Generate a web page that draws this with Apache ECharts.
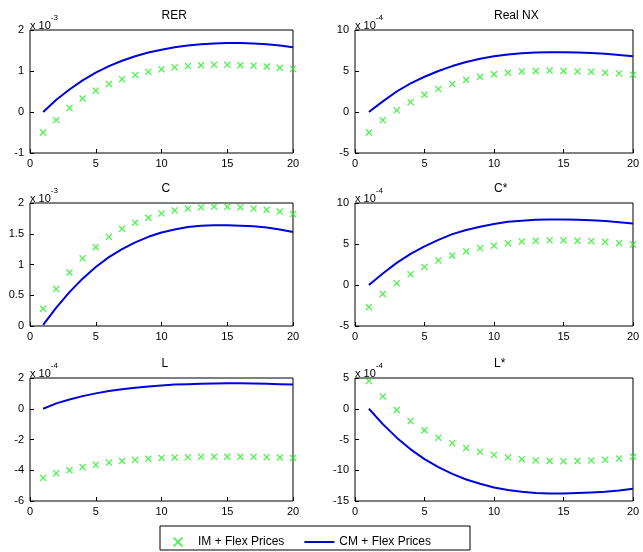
<!DOCTYPE html>
<html><head><meta charset="utf-8">
<script src="https://cdn.jsdelivr.net/npm/echarts@6/dist/echarts.min.js"></script>
<style>body{margin:0;background:#fff}#c{width:643px;height:552px}</style></head>
<body><div id="c"></div>
<script>
const periods=[1,2,3,4,5,6,7,8,9,10,11,12,13,14,15,16,17,18,19,20];
const titles=["RER","Real NX","C","C*","L","L*"];
const exps=["-3","-4","-3","-4","-4","-4"];
const yMin=[-1,-5,0,-5,-6,-15], yMax=[2,10,2,10,2,5], yInt=[1,5,0.5,5,2,5];
const imRER=[-0.5,-0.2,0.1,0.33,0.52,0.68,0.8,0.9,0.98,1.04,1.09,1.12,1.14,1.15,1.15,1.14,1.13,1.11,1.08,1.05];
const cmRER=[0,0.3,0.55,0.77,0.96,1.12,1.25,1.36,1.45,1.52,1.58,1.62,1.65,1.67,1.68,1.68,1.67,1.65,1.62,1.58];
const imNX=[-2.5,-1,0.2,1.2,2.1,2.8,3.4,3.9,4.3,4.6,4.8,4.95,5.0,5.05,5.0,4.95,4.9,4.8,4.7,4.55];
const cmNX=[0,1.3,2.5,3.5,4.3,5.0,5.6,6.1,6.5,6.8,7.0,7.15,7.25,7.3,7.3,7.25,7.2,7.1,6.95,6.8];
const imC=[0.28,0.6,0.87,1.1,1.28,1.45,1.58,1.68,1.76,1.83,1.88,1.91,1.93,1.94,1.94,1.93,1.91,1.89,1.86,1.82];
const cmC=[0.02,0.3,0.55,0.77,0.96,1.12,1.25,1.36,1.45,1.52,1.57,1.61,1.63,1.64,1.64,1.63,1.62,1.6,1.57,1.53];
const imCs=[-2.7,-1.1,0.2,1.3,2.2,3.0,3.6,4.1,4.5,4.8,5.1,5.3,5.4,5.45,5.45,5.4,5.35,5.25,5.1,4.95];
const cmCs=[0,1.4,2.7,3.8,4.7,5.5,6.2,6.7,7.1,7.45,7.7,7.85,7.95,8.0,8.0,7.95,7.9,7.8,7.65,7.5];
const imL=[-4.5,-4.2,-4.0,-3.8,-3.65,-3.5,-3.4,-3.32,-3.25,-3.2,-3.17,-3.15,-3.13,-3.12,-3.12,-3.12,-3.13,-3.15,-3.17,-3.2];
const cmL=[0,0.35,0.6,0.82,1.0,1.15,1.27,1.37,1.45,1.52,1.57,1.6,1.63,1.65,1.66,1.66,1.65,1.63,1.6,1.57];
const imLs=[4.5,2,-0.2,-2,-3.5,-4.7,-5.6,-6.4,-7,-7.5,-7.9,-8.2,-8.4,-8.5,-8.55,-8.5,-8.4,-8.3,-8.1,-7.8];
const cmLs=[0,-2.5,-4.7,-6.6,-8.2,-9.5,-10.6,-11.5,-12.2,-12.8,-13.2,-13.5,-13.7,-13.8,-13.8,-13.7,-13.6,-13.5,-13.3,-13.0];
const IM=[imRER,imNX,imC,imCs,imL,imLs], CM=[cmRER,cmNX,cmC,cmCs,cmL,cmLs];
const green='#22ee22', blue='#0000dd';
const X='path://M0,1.3L1.3,0L5,3.7L8.7,0L10,1.3L6.3,5L10,8.7L8.7,10L5,6.3L1.3,10L0,8.7L3.7,5Z';
const LINE='path://M0,4L30,4L30,6L0,6Z';
const lefts=[30,355], widths=[263,278], tops=[30,203,378], h=123;
const grid=[],xAxis=[],yAxis=[],series=[],graphic=[];
const font='Arial, Liberation Sans';
for(let i=0;i<6;i++){
  const c=i%2,r=Math.floor(i/2);
  grid.push({left:lefts[c],top:tops[r],width:widths[c],height:h,show:true,borderColor:'#000',borderWidth:1,backgroundColor:'#fff'});
  xAxis.push({gridIndex:i,type:'value',min:0,max:20,interval:5,axisLine:{show:false,onZero:false},axisTick:{inside:true,length:4,lineStyle:{color:'#000'}},splitLine:{show:false},axisLabel:{color:'#000',fontSize:11,fontFamily:font,margin:5}});
  yAxis.push({gridIndex:i,type:'value',min:yMin[i],max:yMax[i],interval:yInt[i],axisLine:{show:false,onZero:false},axisTick:{inside:true,length:4,lineStyle:{color:'#000'}},splitLine:{show:false},axisLabel:{color:'#000',fontSize:11,fontFamily:font,margin:6}});
  series.push({type:'scatter',name:'IM + Flex Prices',xAxisIndex:i,yAxisIndex:i,data:periods.map((p,k)=>[p,IM[i][k]]),symbol:X,symbolSize:7,itemStyle:{color:green}});
  series.push({type:'line',name:'CM + Flex Prices',xAxisIndex:i,yAxisIndex:i,data:periods.map((p,k)=>[p,CM[i][k]]),showSymbol:false,lineStyle:{color:blue,width:2},itemStyle:{color:blue}});
  graphic.push({type:'text',left:lefts[c]+widths[c]/2,top:tops[r]-20,style:{text:titles[i],font:'12px Arial, Liberation Sans',fill:'#000',textAlign:'center'}});
  graphic.push({type:'text',left:lefts[c],top:tops[r]-16,style:{text:'{a|x 10}{b|'+exps[i]+'}',rich:{a:{fontSize:11,fontFamily:font,fill:'#000',padding:[6,0,0,0]},b:{fontSize:8,fontFamily:font,fill:'#000',verticalAlign:'top'}}}});
}
graphic.push({type:'rect',shape:{x:160,y:526,width:310,height:24},style:{fill:'#fff',stroke:'#000',lineWidth:1}});
const chart=echarts.init(document.getElementById('c'));
chart.setOption({animation:false,grid,xAxis,yAxis,series,graphic,
 legend:{left:168,top:531,itemGap:20,itemWidth:30,itemHeight:10,textStyle:{fontSize:12,fontFamily:font,color:'#000'},
  data:[{name:'IM + Flex Prices',icon:'path://M10,1.3L11.3,0L15,3.7L18.7,0L20,1.3L16.3,5L20,8.7L18.7,10L15,6.3L11.3,10L10,8.7L13.7,5Z'},{name:'CM + Flex Prices',icon:LINE}]}});
</script></body></html>
